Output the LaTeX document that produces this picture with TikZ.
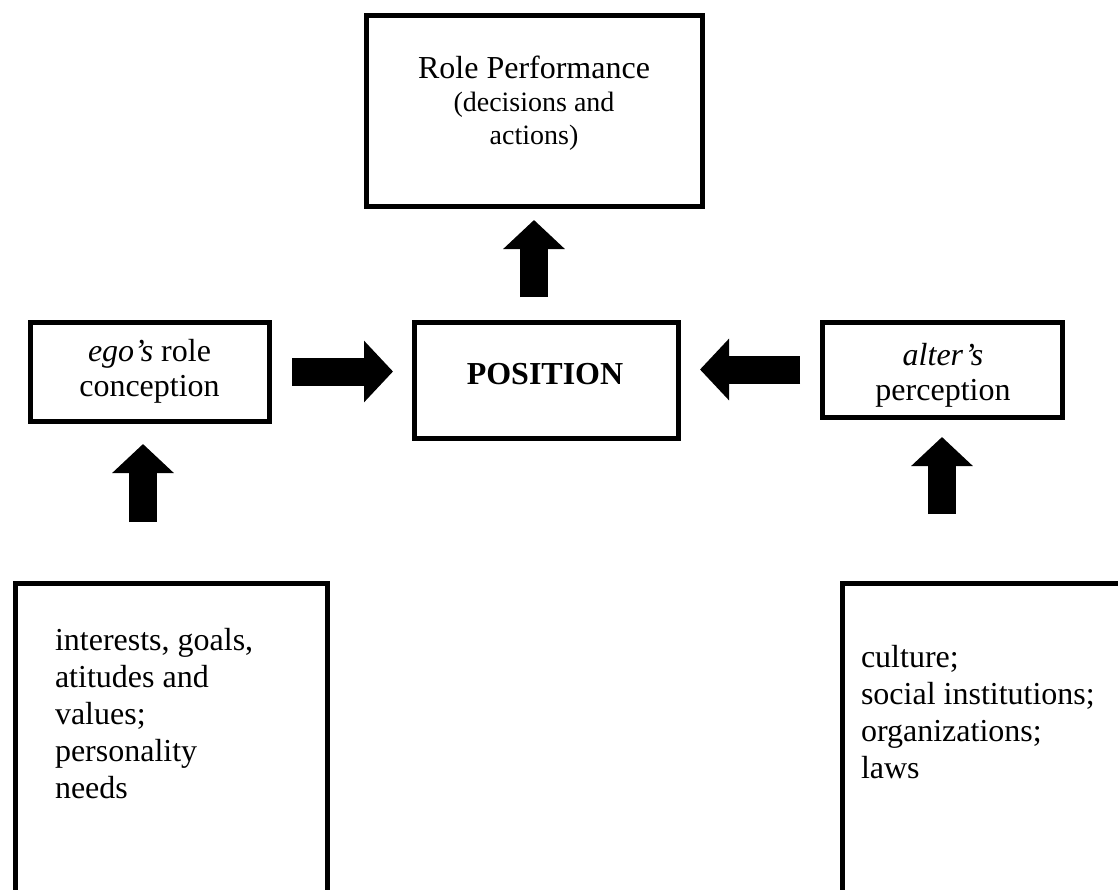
\documentclass[tikz,border=0pt]{standalone}
\usepackage{fontspec}
\setmainfont{Liberation Serif}
\usetikzlibrary{arrows.meta,calc}

\tikzset{
  box/.style={draw, line width=5pt, inner sep=0pt, outer sep=0pt},
  txt/.style={inner sep=0pt, outer sep=0pt, font=\fontsize{32}{35}\selectfont},
  blk/.style={line width=28pt, line cap=butt,
              -{Triangle[length=29pt,width=60pt]}},
}

\begin{document}
\begin{tikzpicture}[x=1pt, y=-1pt]
\useasboundingbox (0,0) rectangle (1118,889);
\clip (0,0) rectangle (1118,889);

% boxes
\node[box, minimum width=336pt, minimum height=191pt] (role) at (534,110.5) {};
\node[box, minimum width=239pt, minimum height=99pt, txt, align=center] (ego) at (149.5,371.5)
  {\textit{ego’s} role\\conception};
\node[box, minimum width=264pt, minimum height=116pt] (pos) at (546,380) {};
\node[box, minimum width=240pt, minimum height=95pt] (alter) at (942,369.5) {};
\node[box, anchor=north west, minimum width=312pt, minimum height=400pt] (lbox) at (15,583) {};
\node[box, anchor=north west, minimum width=400pt, minimum height=400pt] (rbox) at (842,583) {};

% box texts
\node[txt, anchor=north, align=center, font=\fontsize{28}{33}\selectfont] (roletxt) at (534,56)
  {{\fontsize{32}{33}\selectfont Role Performance}\\(decisions and\\actions)};
\node[txt, anchor=north, font=\fontsize{32}{35}\selectfont\bfseries] (postxt) at (545,363) {POSITION};
\node[txt, anchor=north, align=center] (altertxt) at (943,343)
  {\textit{alter’s}\\perception};
\node[txt, anchor=north west, align=left, font=\fontsize{32}{37}\selectfont] (ltxt) at (55,628)
  {interests, goals,\\atitudes and\\values;\\personality\\needs};
\node[txt, anchor=north west, align=left, font=\fontsize{32}{37}\selectfont] (rtxt) at (861,645)
  {culture;\\social institutions;\\organizations;\\laws};

% block arrows
\draw[blk, shorten <=25pt, shorten >=14pt] (pos.north -| role.south) -- (role.south);
\draw[blk, shorten <=23pt, shorten >=21pt] (ego.east) -- (ego.east -| pos.west);
\draw[blk, shorten <=22pt, shorten >=22pt] (alter.west) -- (alter.west -| pos.east);
\coordinate (egoin) at ($(ego.south)+(-6.5,0)$);
\draw[blk, shorten <=61pt, shorten >=23pt] (egoin |- lbox.north) -- (egoin);
\draw[blk, shorten <=69pt, shorten >=20pt] (alter.south |- rbox.north) -- (alter.south);
\end{tikzpicture}
\end{document}
